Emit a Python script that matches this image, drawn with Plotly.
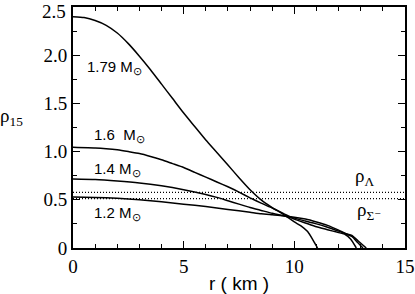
import plotly.graph_objects as go

# ---- data ----
r_179 = [0, 0.5, 1, 1.5, 2, 2.5, 3, 3.5, 4, 4.5, 5, 5.5, 6, 6.5, 7, 7.5, 8, 8.5, 9, 9.5, 10, 10.3, 10.6, 10.85, 11.05]
rho_179 = [2.40, 2.39, 2.36, 2.31, 2.23, 2.12, 1.99, 1.85, 1.70, 1.55, 1.40, 1.26, 1.12, 0.99, 0.86, 0.73, 0.605, 0.50, 0.42, 0.35, 0.27, 0.23, 0.17, 0.08, 0.0]

r_16 = [0, 1, 1.5, 2, 2.5, 3, 3.5, 4, 4.5, 5, 5.5, 6, 6.5, 7, 7.5, 8, 8.5, 9, 9.5, 10, 10.5, 11, 11.5, 12, 12.3, 12.55, 12.8]
rho_16 = [1.045, 1.038, 1.03, 1.018, 1.00, 0.98, 0.95, 0.915, 0.875, 0.835, 0.785, 0.735, 0.685, 0.635, 0.58, 0.52, 0.465, 0.415, 0.36, 0.30, 0.26, 0.22, 0.19, 0.16, 0.14, 0.09, 0.0]

r_14 = [0, 1, 2, 3, 4, 5, 6, 6.5, 7, 7.5, 8, 8.5, 9, 9.5, 10, 10.5, 11, 11.5, 12, 12.3, 12.6, 12.85, 13.1]
rho_14 = [0.715, 0.71, 0.695, 0.675, 0.645, 0.605, 0.555, 0.525, 0.49, 0.455, 0.42, 0.39, 0.36, 0.335, 0.31, 0.28, 0.25, 0.215, 0.175, 0.15, 0.12, 0.06, 0.0]

r_12 = [0, 1, 2, 3, 4, 5, 6, 7, 8, 8.5, 9, 9.5, 10, 10.5, 11, 11.5, 12, 12.3, 12.6, 12.9, 13.25]
rho_12 = [0.53, 0.525, 0.515, 0.50, 0.48, 0.455, 0.43, 0.40, 0.37, 0.355, 0.345, 0.335, 0.32, 0.30, 0.27, 0.235, 0.185, 0.15, 0.13, 0.07, 0.0]

rho_lambda = 0.578
rho_sigma = 0.512
r_range = [0, 15]
rho_range = [0, 2.5]

y_tickvals = [0, 0.5, 1.0, 1.5, 2.0, 2.5]
y_ticktext = ["0", "0.5", "1.0", "1.5", "2.0", "2.5"]
x_tickvals = [0, 5, 10, 15]
x_ticktext = ["0", "5", "10", "15"]

curve_labels = ["1.79 M<sub>⊙</sub>", "1.6  M<sub>⊙</sub>", "1.4 M<sub>⊙</sub>", "1.2 M<sub>⊙</sub>"]
label_pos = [(0.56, 1.87), (0.87, 1.165), (0.87, 0.81), (0.87, 0.356)]

fig = go.Figure()
for rr, yy in [(r_179, rho_179), (r_16, rho_16), (r_14, rho_14), (r_12, rho_12)]:
    fig.add_trace(go.Scatter(x=rr, y=yy, mode="lines",
                             line=dict(color="black", width=1.5, shape="spline", smoothing=0.5),
                             showlegend=False, hoverinfo="skip"))
for lvl in [rho_lambda, rho_sigma]:
    fig.add_trace(go.Scatter(x=r_range, y=[lvl, lvl], mode="lines",
                             line=dict(color="black", width=1.3, dash="1px,2px"),
                             showlegend=False, hoverinfo="skip"))

sans = "Liberation Sans, Arial, sans-serif"
serif = "Liberation Serif, Times New Roman, DejaVu Serif, serif"

# the top tick label sits slightly lower than its tick in the reference so it stays in the frame
shown_ticktext = [t if v != rho_range[1] else "" for v, t in zip(y_tickvals, y_ticktext)]

annots = []
for txt, (x, y) in zip(curve_labels, label_pos):
    annots.append(dict(x=x, y=y, xref="x", yref="y", text=txt, showarrow=False,
                       xanchor="left", yanchor="middle", font=dict(family=sans, size=15, color="black")))
annots.append(dict(x=12.67, y=0.74, xref="x", yref="y", text="ρ<sub>Λ</sub>", showarrow=False,
                   xanchor="left", yanchor="middle", font=dict(family=serif, size=19, color="black")))
annots.append(dict(x=12.72, y=0.38, xref="x", yref="y", text="ρ<sub>Σ⁻</sub>", showarrow=False,
                   xanchor="left", yanchor="middle", font=dict(family=serif, size=19, color="black")))
annots.append(dict(x=-0.185, y=0.545, xref="paper", yref="paper", text="ρ<sub>15</sub>", showarrow=False,
                   xanchor="center", yanchor="middle", font=dict(family=serif, size=19, color="black")))
annots.append(dict(x=0.5, y=-0.148, xref="paper", yref="paper", text="r ( km )", showarrow=False,
                   xanchor="center", yanchor="middle", font=dict(family=sans, size=19, color="black")))
annots.append(dict(x=0, y=rho_range[1], xref="paper", yref="y", text=y_ticktext[-1], showarrow=False,
                   xanchor="right", yanchor="middle", xshift=-5, yshift=-4,
                   font=dict(family=serif, size=19, color="black")))

axis_common = dict(showline=True, linecolor="black", linewidth=2, mirror="allticks",
                   ticks="inside", ticklen=7, tickwidth=1.3, tickcolor="black",
                   showgrid=False, zeroline=False, ticklabeloverflow="allow", automargin=False,
                   tickfont=dict(family=serif, size=19, color="black"))

fig.update_layout(
    template="none",
    width=415, height=294,
    margin=dict(l=73, r=10, t=7, b=46, autoexpand=False),
    paper_bgcolor="white", plot_bgcolor="white",
    font=dict(family=serif, color="black"),
    xaxis=dict(range=r_range, tickmode="array", tickvals=x_tickvals, ticktext=x_ticktext,
               minor=dict(tickmode="linear", tick0=0, dtick=1, ticks="inside", ticklen=4,
                          tickwidth=1.2, tickcolor="black", showgrid=False),
               **axis_common),
    yaxis=dict(range=rho_range, tickmode="array", tickvals=y_tickvals, ticktext=shown_ticktext,
               minor=dict(tickmode="linear", tick0=0, dtick=0.25, ticks="inside", ticklen=4,
                          tickwidth=1.2, tickcolor="black", showgrid=False),
               **axis_common),
    annotations=annots,
)

fig.write_html("out.html", config={"displayModeBar": False},
               post_script="document.body.style.margin='0';document.body.style.padding='0';")
